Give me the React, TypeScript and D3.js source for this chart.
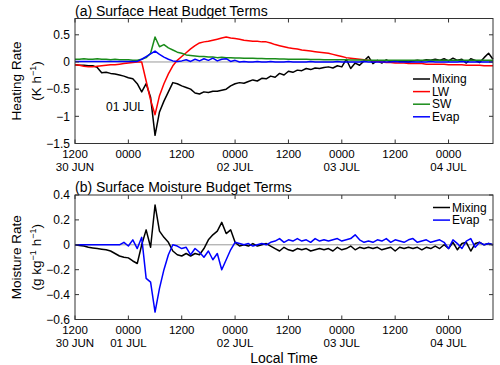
import * as d3 from 'd3';

// hourly samples starting 30 JUN 1200 local time
const hourTicks = [0, 12, 24, 36, 48, 60, 72, 84];
const timeLabels = ['1200', '0000', '1200', '0000', '1200', '0000', '1200', '0000'];
const dateLabelsA = ['30 JUN', '', '', '02 JUL', '', '03 JUL', '', '04 JUL'];
const dateLabelsB = ['30 JUN', '01 JUL', '', '02 JUL', '', '03 JUL', '', '04 JUL'];
const heatTicks = [0.5, 0, -0.5, -1, -1.5];
const moistTicks = [0.4, 0.2, 0, -0.2, -0.4, -0.6];

const mixingHeat = [
  -0.05, -0.06, -0.06, -0.07, -0.07, -0.10, -0.20, -0.19, -0.21, -0.22,
  -0.24, -0.26, -0.29, -0.31, -0.40, -0.55, -0.40, -0.65, -1.35, -0.92,
  -0.72, -0.55, -0.38, -0.40, -0.44, -0.47, -0.50, -0.57, -0.59, -0.55,
  -0.56, -0.54, -0.54, -0.52, -0.50, -0.44, -0.40, -0.38, -0.39, -0.36,
  -0.33, -0.35, -0.30, -0.31, -0.26, -0.28, -0.21, -0.24, -0.17, -0.19,
  -0.15, -0.16, -0.12, -0.14, -0.11, -0.12, -0.10, -0.09, -0.11, -0.07,
  -0.09, 0.05, -0.12, -0.02, -0.06, 0.02, 0.10, -0.03, 0.03, -0.02,
  0.04, 0.00, 0.01, 0.02, 0.01, 0.00, 0.02, 0.03, 0.02, 0.04,
  0.03, 0.05, 0.03, 0.06, 0.02, 0.07, 0.03, 0.05, -0.02, 0.06,
  0.03, -0.01, 0.08, 0.16, 0.05,
];
const lwHeat = [
  -0.05, -0.06, -0.08, -0.09, -0.09, -0.08, -0.07, -0.06, -0.05, -0.05,
  -0.04, -0.03, -0.02, -0.01, 0.00, 0.00, -0.35, -0.70, -0.97, -0.62,
  -0.40, -0.22, -0.07, 0.03, 0.10, 0.17, 0.24, 0.30, 0.35, 0.37,
  0.38, 0.40, 0.42, 0.44, 0.46, 0.44, 0.43, 0.42, 0.40, 0.39,
  0.38, 0.38, 0.37, 0.37, 0.35, 0.32, 0.30, 0.28, 0.26, 0.25,
  0.24, 0.22, 0.21, 0.20, 0.19, 0.18, 0.17, 0.16, 0.14, 0.12,
  0.10, 0.08, 0.07, 0.06, 0.05, 0.04, 0.03, 0.02, 0.01, 0.00,
  -0.01, -0.01, -0.02, -0.02, -0.02, -0.03, -0.03, -0.03, -0.03, -0.04,
  -0.04, -0.04, -0.04, -0.04, -0.05, -0.05, -0.05, -0.05, -0.06, -0.06,
  -0.06, -0.06, -0.07, -0.07, -0.07,
];
const swHeat = [
  0.05, 0.05, 0.06, 0.05, 0.05, 0.06, 0.05, 0.05, 0.04, 0.05,
  0.04, 0.04, 0.04, 0.03, 0.03, 0.05, 0.08, 0.16, 0.46, 0.28,
  0.32, 0.26, 0.22, 0.18, 0.16, 0.13, 0.12, 0.11, 0.10, 0.10,
  0.09, 0.09, 0.08, 0.085, 0.08, 0.08, 0.075, 0.075, 0.07, 0.07,
  0.07, 0.065, 0.065, 0.06, 0.06, 0.06, 0.055, 0.055, 0.05, 0.05,
  0.05, 0.05, 0.05, 0.045, 0.045, 0.045, 0.04, 0.04, 0.04, 0.04,
  0.04, 0.04, 0.035, 0.035, 0.035, 0.035, 0.03, 0.03, 0.03, 0.03,
  0.03, 0.03, 0.03, 0.03, 0.03, 0.03, 0.03, 0.03, 0.03, 0.03,
  0.03, 0.03, 0.03, 0.03, 0.03, 0.03, 0.03, 0.03, 0.03, 0.03,
  0.03, 0.03, 0.03, 0.03, 0.03,
];
const evapHeat = [
  0.01, 0.01, 0.01, 0.01, 0.01, 0.01, 0.01, 0.01, 0.01, 0.01,
  0.01, 0.01, 0.01, 0.01, 0.01, 0.05, 0.10, 0.15, 0.20, 0.14,
  0.09, 0.05, 0.02, 0.01, 0.02, 0.04, 0.01, 0.05, 0.02, 0.06,
  0.03, 0.07, 0.02, 0.05, 0.06, 0.01, 0.03, 0.00, 0.01, 0.00,
  0.00, 0.01, 0.00, 0.00, 0.01, 0.00, 0.00, 0.00, 0.01, 0.00,
  0.00, 0.00, 0.00, 0.01, 0.00, 0.00, 0.00, 0.00, 0.00, 0.01,
  0.00, 0.00, 0.00, 0.00, 0.00, 0.01, 0.00, 0.00, 0.00, 0.00,
  0.00, 0.00, 0.01, 0.00, 0.00, 0.00, 0.00, 0.00, 0.00, 0.00,
  0.01, 0.00, 0.00, 0.00, 0.00, 0.00, 0.00, 0.01, 0.00, 0.00,
  0.00, 0.00, 0.00, 0.00, 0.00,
];
const mixingMoist = [
  0.00, -0.005, -0.01, -0.02, -0.025, -0.03, -0.035, -0.04, -0.05, -0.07,
  -0.09, -0.10, -0.105, -0.13, -0.15, 0.00, 0.12, -0.02, 0.32, 0.11,
  0.06, 0.02, -0.05, -0.08, -0.09, -0.07, -0.09, -0.07, -0.08, -0.03,
  0.04, 0.08, 0.11, 0.18, 0.09, 0.12, 0.02, -0.01, 0.00, -0.01,
  0.01, -0.01, 0.00, 0.01, -0.01, -0.03, -0.05, -0.02, -0.04, -0.05,
  -0.03, -0.04, -0.03, -0.05, -0.04, -0.03, -0.04, -0.03, -0.05, -0.02,
  -0.04, -0.03, -0.01, -0.04, -0.02, -0.03, -0.02, -0.03, -0.02, -0.04,
  -0.03, -0.02, -0.05, -0.02, -0.03, -0.02, -0.03, -0.02, -0.04, -0.02,
  -0.03, -0.01, -0.03, 0.00, -0.03, 0.02, -0.04, 0.01, 0.02, -0.05,
  0.01, 0.02, 0.00, 0.01, 0.00,
];
const evapMoist = [
  0.00, 0.00, 0.00, 0.00, 0.00, 0.00, 0.00, 0.00, 0.00, 0.00,
  0.00, 0.02, -0.01, 0.04, -0.03, 0.06, -0.27, -0.30, -0.54, -0.35,
  -0.20, -0.08, 0.00, -0.01, -0.03, -0.02, -0.08, -0.03, -0.06, -0.10,
  -0.05, -0.12, -0.07, -0.20, -0.12, -0.04, 0.02, 0.01, 0.00, 0.01,
  -0.01, 0.00, 0.01, 0.00, 0.02, 0.03, 0.05, 0.02, 0.04, 0.03,
  0.05, 0.03, 0.04, 0.02, 0.05, 0.03, 0.04, 0.03, 0.04, 0.05,
  0.03, 0.04, 0.05, 0.08, 0.04, 0.02, 0.03, 0.02, 0.04, 0.03,
  0.05, 0.02, 0.04, 0.03, 0.02, 0.04, 0.05, 0.02, 0.03, 0.04,
  0.02, 0.03, 0.04, 0.02, -0.03, 0.04, 0.01, -0.03, 0.03, 0.05,
  -0.02, 0.02, 0.00, 0.01, 0.00,
];

const font = '"Liberation Sans", Arial, Helvetica, sans-serif';
const left = 75;
const right = 493;

const x = d3.scaleLinear().domain([0, 94]).range([left, right]);
const fmt = (v) => String(v).replace('-', '\u2212');

const Panel = ({ top, bottom, domain, ticks, series, title, dateLabels, yLabel, yUnit, legendX, legendY }) => {
  const y = d3.scaleLinear().domain(domain).range([bottom, top]);
  const line = d3.line().x((d, i) => x(i)).y((d) => y(d));
  const midY = (top + bottom) / 2;
  return (
    <g>
      <text x={left} y={top - 3} fontSize={14}>{title}</text>
      <line x1={left} x2={right} y1={y(0)} y2={y(0)} stroke="#999" strokeWidth={1} />
      {series.map((s) => (
        <path key={s.name} d={line(s.values)} fill="none" stroke={s.color} strokeWidth={1.5} strokeLinejoin="round" />
      ))}
      <rect x={left} y={top} width={right - left} height={bottom - top} fill="none" stroke="#333" strokeWidth={1} />
      {ticks.map((t) => (
        <g key={t}>
          <line x1={left} x2={left + 4} y1={y(t)} y2={y(t)} stroke="#333" />
          <line x1={right - 4} x2={right} y1={y(t)} y2={y(t)} stroke="#333" />
          <text x={left - 5} y={y(t)} dy="0.35em" textAnchor="end" fontSize={12}>{fmt(t)}</text>
        </g>
      ))}
      {hourTicks.map((h, i) => (
        <g key={h}>
          <line x1={x(h)} x2={x(h)} y1={bottom} y2={bottom - 4} stroke="#333" />
          <line x1={x(h)} x2={x(h)} y1={top} y2={top + 4} stroke="#333" />
          <text x={x(h)} y={bottom + 14} textAnchor="middle" fontSize={11.5}>{timeLabels[i]}</text>
          {dateLabels[i] && (
            <text x={x(h)} y={bottom + 27.5} textAnchor="middle" fontSize={11.5}>{dateLabels[i]}</text>
          )}
        </g>
      ))}
      <text transform={`translate(21,${midY}) rotate(-90)`} textAnchor="middle" fontSize={13.5}>{yLabel}</text>
      <text transform={`translate(41,${midY}) rotate(-90)`} textAnchor="middle" fontSize={13.5}>{yUnit}</text>
      {series.map((s, i) => (
        <g key={s.name} transform={`translate(${legendX},${legendY + i * 12.6})`}>
          <line x1={0} x2={17} y1={0} y2={0} stroke={s.color} strokeWidth={1.5} />
          <text x={19} y={0} dy="0.35em" fontSize={12}>{s.name}</text>
        </g>
      ))}
    </g>
  );
};

export default function App() {
  const sup = (t) => <tspan dy={-5} fontSize={9}>{t}</tspan>;
  return (
    <svg width={500} height={365} style={{ position: 'absolute', left: 0, top: 0, fontFamily: font, background: '#fff' }}>
      <Panel
        top={18.5}
        bottom={143.5}
        domain={[-1.5, 0.8]}
        ticks={heatTicks}
        title="(a) Surface Heat Budget Terms"
        dateLabels={dateLabelsA}
        yLabel="Heating Rate"
        yUnit={<>(K h{sup('\u22121')}<tspan dy={5}>)</tspan></>}
        legendX={413}
        legendY={79}
        series={[
          { name: 'Mixing', values: mixingHeat, color: '#000000' },
          { name: 'LW', values: lwHeat, color: '#ff0000' },
          { name: 'SW', values: swHeat, color: '#1a8c1a' },
          { name: 'Evap', values: evapHeat, color: '#0000ff' },
        ]}
      />
      <text x={106} y={111} fontSize={12}>01 JUL</text>
      <Panel
        top={195}
        bottom={319.5}
        domain={[-0.6, 0.4]}
        ticks={moistTicks}
        title="(b) Surface Moisture Budget Terms"
        dateLabels={dateLabelsB}
        yLabel="Moisture Rate"
        yUnit={<>(g kg{sup('\u22121')}<tspan dy={5}> h</tspan>{sup('\u22121')}<tspan dy={5}>)</tspan></>}
        legendX={433}
        legendY={207.5}
        series={[
          { name: 'Mixing', values: mixingMoist, color: '#000000' },
          { name: 'Evap', values: evapMoist, color: '#0000ff' },
        ]}
      />
      <text x={(left + right) / 2} y={362.5} textAnchor="middle" fontSize={14}>Local Time</text>
    </svg>
  );
}
